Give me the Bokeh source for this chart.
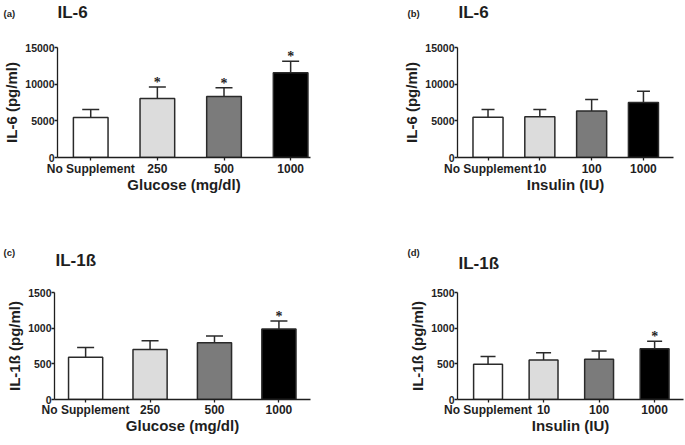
import math
from bokeh.plotting import figure
from bokeh.models import (Range1d, FixedTicker, Whisker, TeeHead, Label, LabelSet,
                          ColumnDataSource)
from bokeh.layouts import row, column
from bokeh.embed import file_html
from bokeh.resources import INLINE

# ---------------- data ----------------
glucose_labels = ["No Supplement", "250", "500", "1000"]
insulin_labels = ["No Supplement", "10", "100", "1000"]

il6_glucose_mean = [5450, 8060, 8320, 11550]
il6_glucose_sem = [1090, 1540, 1190, 1590]
il6_glucose_sig = [False, True, True, True]

il6_insulin_mean = [5480, 5560, 6330, 7500]
il6_insulin_sem = [1080, 1000, 1580, 1530]
il6_insulin_sig = [False, False, False, False]

il1b_glucose_mean = [592, 702, 794, 990]
il1b_glucose_sem = [136, 122, 95, 112]
il1b_glucose_sig = [False, False, False, True]

il1b_insulin_mean = [493, 555, 564, 712]
il1b_insulin_sem = [111, 99, 117, 103]
il1b_insulin_sig = [False, False, False, True]

il6_ticks = [0, 5000, 10000, 15000]
il1b_ticks = [0, 500, 1000, 1500]

bar_colors = ["#ffffff", "#dcdcdc", "#7b7b7b", "#000000"]
INK = "#1e1e1e"
FONT = "Liberation Sans"


def panel(labels, mean, sem, sig, yticks, xr, bar_w, cap, w, h, borders,
          ylabel, xlabel, xtick_standoff, xlab_standoff):
    bl, br, bt, bb = borders
    p = figure(width=w, height=h, output_backend="svg", toolbar_location=None,
               x_range=Range1d(*xr), y_range=Range1d(yticks[0], yticks[-1]),
               min_border_left=bl, min_border_right=br,
               min_border_top=bt, min_border_bottom=bb)
    p.outline_line_color = None
    p.xgrid.visible = False
    p.ygrid.visible = False

    xs = list(range(len(labels)))
    tops = [m + s for m, s in zip(mean, sem)]
    src = ColumnDataSource(dict(x=xs, mean=mean, top=tops, color=bar_colors))
    p.vbar(x="x", top="mean", bottom=0, width=bar_w, source=src,
           fill_color="color", line_color="#2a2a2a", line_width=1.5)

    wh = Whisker(source=src, base="x", lower="mean", upper="top",
                 line_color="#2a2a2a", line_width=1.5, lower_head=None,
                 upper_head=TeeHead(size=cap, line_color="#2a2a2a", line_width=1.5))
    p.add_layout(wh)

    sx = [x for x, s in zip(xs, sig) if s]
    sy = [t for t, s in zip(tops, sig) if s]
    if sx:
        ssrc = ColumnDataSource(dict(x=sx, y=sy, t=["*"] * len(sx)))
        p.add_layout(LabelSet(x="x", y="y", text="t", source=ssrc, y_offset=0,
                              text_align="center", text_baseline="alphabetic",
                              text_font=FONT, text_font_style="bold",
                              text_font_size="14px", text_color=INK))

    # axes
    p.xaxis.ticker = FixedTicker(ticks=xs)
    p.xaxis.major_label_overrides = {i: l for i, l in enumerate(labels)}
    p.yaxis.ticker = FixedTicker(ticks=yticks)
    for ax in (p.xaxis[0], p.yaxis[0]):
        ax.axis_line_color = INK
        ax.axis_line_width = 1.3
        ax.major_tick_line_color = INK
        ax.major_tick_line_width = 1.3
        ax.major_tick_out = 3
        ax.major_tick_in = 0
        ax.minor_tick_line_color = None
        ax.major_label_text_font = FONT
        ax.major_label_text_font_style = "bold"
        ax.major_label_text_color = INK
        ax.axis_label_text_font = FONT
        ax.axis_label_text_font_style = "bold"
        ax.axis_label_text_font_size = "15px"
        ax.axis_label_text_color = INK
    p.xaxis.major_label_text_font_size = "12px"
    p.xaxis.major_label_standoff = xtick_standoff
    p.xaxis.axis_label = xlabel
    p.xaxis.axis_label_standoff = xlab_standoff
    p.yaxis.major_label_text_font_size = "10.5px"
    p.yaxis.major_label_standoff = 0
    p.yaxis.axis_label = ylabel
    p.yaxis.axis_label_standoff = 2
    return p


def header(height, items):
    h = figure(width=685, height=height, output_backend="svg", toolbar_location=None,
               x_range=Range1d(0, 685), y_range=Range1d(0, height),
               x_axis_location=None, y_axis_location=None, min_border=0)
    h.outline_line_color = None
    h.xgrid.visible = False
    h.ygrid.visible = False
    for text, x, y, size in items:
        h.add_layout(Label(x=x, y=y, x_units="screen", y_units="screen", text=text,
                           text_align="left", text_baseline="alphabetic",
                           text_font=FONT, text_font_style="bold",
                           text_font_size=size, text_color=INK))
    return h


# header 1 covers page y 0..28, header 2 covers 220..280 (screen y from bottom)
h1 = header(28, [("(a)", 3, 14.8, "9.5px"), ("IL-6", 57, 15.9, "17px"),
                 ("(b)", 407, 14.8, "9.5px"), ("IL-6", 458, 15.9, "17px")])
h2 = header(60, [("(c)", 3, 27.8, "9.5px"), ("IL-1ß", 55, 19.9, "17px"),
                 ("(d)", 407, 27.8, "9.5px"), ("IL-1ß", 458, 16.9, "17px")])

pa = panel(glucose_labels, il6_glucose_mean, il6_glucose_sem, il6_glucose_sig,
           il6_ticks, (-0.4985, 3.298), 0.52, 17, 340, 192, (54, 30, 16, 63),
           "IL-6 (pg/ml)", "Glucose (mg/dl)", 1, -3)
pb = panel(insulin_labels, il6_insulin_mean, il6_insulin_sem, il6_insulin_sig,
           il6_ticks, (-0.589, 3.58), 0.58, 13, 345, 192, (117, 12, 19, 62),
           "IL-6 (pg/ml)", "Insulin (IU)", 1, -3)
pc = panel(glucose_labels, il1b_glucose_mean, il1b_glucose_sem, il1b_glucose_sig,
           il1b_ticks, (-0.483, 3.49), 0.53, 17, 340, 165, (54, 30, 8, 46),
           "IL-1ß (pg/ml)", "Glucose (mg/dl)", 0, -3)
pd_ = panel(insulin_labels, il1b_insulin_mean, il1b_insulin_sem, il1b_insulin_sig,
            il1b_ticks, (-0.55, 3.52), 0.52, 15, 345, 165, (117, 2, 12, 46),
            "IL-1ß (pg/ml)", "Insulin (IU)", 0, -3)

layout = column(h1, row(pa, pb), h2, row(pc, pd_))
open("out.html", "w").write(file_html(layout, INLINE))
